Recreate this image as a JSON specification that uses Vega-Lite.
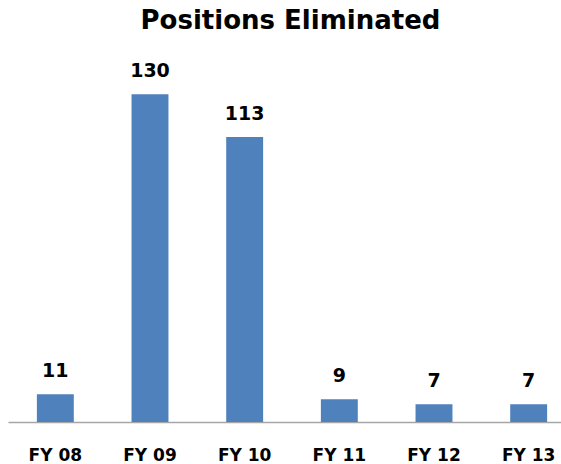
{
  "$schema": "https://vega.github.io/schema/vega-lite/v6.json",
  "autosize": {"type": "none"},
  "width": 553,
  "height": 353,
  "padding": {"left": 8, "top": 69, "right": 0, "bottom": 42},
  "background": "white",
  "config": {"view": {"stroke": null}},
  "title": {
    "text": "Positions Eliminated",
    "font": "DejaVu Sans",
    "fontSize": 26,
    "fontWeight": "bold",
    "color": "#000000",
    "anchor": "middle",
    "baseline": "alphabetic",
    "frame": "group",
    "offset": 7,
    "dx": 6
  },
  "data": {
    "values": [
      {"year": "FY 08", "positions": 11},
      {"year": "FY 09", "positions": 130},
      {"year": "FY 10", "positions": 113},
      {"year": "FY 11", "positions": 9},
      {"year": "FY 12", "positions": 7},
      {"year": "FY 13", "positions": 7}
    ]
  },
  "encoding": {
    "x": {
      "field": "year",
      "type": "nominal",
      "sort": null,
      "scale": {"range": [0, 568], "paddingInner": 0.61, "paddingOuter": 0.305},
      "axis": {
        "title": null,
        "labelAngle": 0,
        "labelFont": "DejaVu Sans",
        "labelFontSize": 17,
        "labelFontWeight": "bold",
        "labelColor": "#000000",
        "labelBaseline": "alphabetic",
        "labelPadding": 38,
        "ticks": false,
        "domainColor": "#A6A6A6",
        "domainWidth": 1.5
      }
    },
    "y": {
      "field": "positions",
      "type": "quantitative",
      "scale": {"domain": [0, 140]},
      "axis": null
    }
  },
  "layer": [
    {"mark": {"type": "bar", "color": "#4F81BD"}},
    {
      "mark": {
        "type": "text",
        "font": "DejaVu Sans",
        "fontSize": 19,
        "fontWeight": "bold",
        "color": "#000000",
        "baseline": "alphabetic",
        "dy": -17
      },
      "encoding": {"text": {"field": "positions", "type": "quantitative"}}
    }
  ]
}
